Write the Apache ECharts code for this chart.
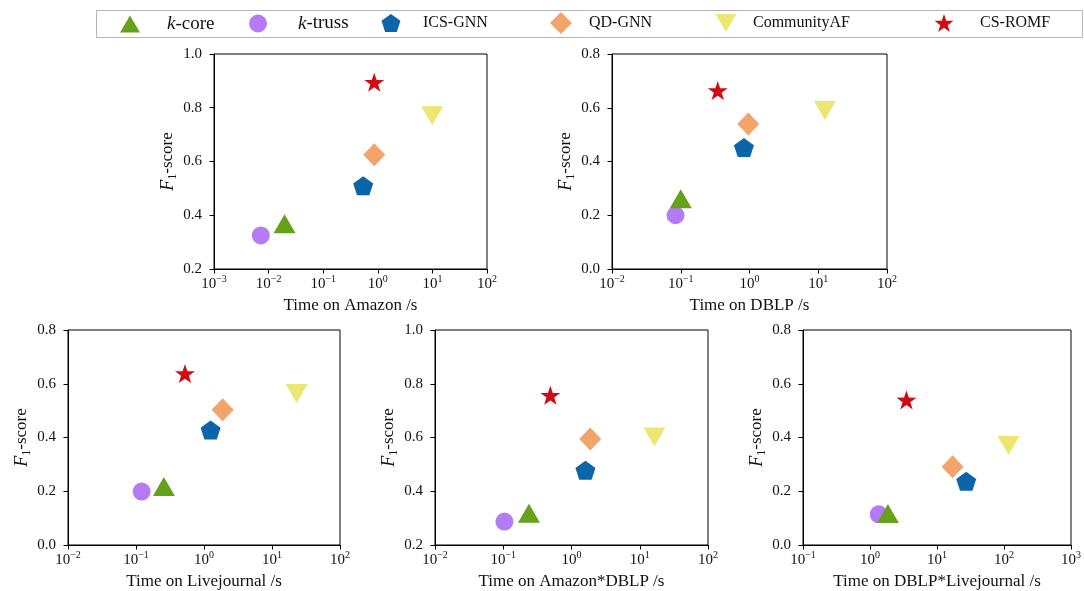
<!DOCTYPE html>
<html><head><meta charset="utf-8">
<script src="https://cdn.jsdelivr.net/npm/echarts@6.0.0/dist/echarts.min.js"></script>
<style>html,body{margin:0;padding:0;background:#fff}#c{width:1084px;height:591px}</style>
</head><body><div id="c"></div>
<script>
// ---- data ----
const methods = ['k-core', 'k-truss', 'ICS-GNN', 'QD-GNN', 'CommunityAF', 'CS-ROMF'];
const amazonTime = [0.0196, 0.0072, 0.54, 0.86, 9.9, 0.86];
const amazonF1   = [0.368, 0.325, 0.51, 0.625, 0.77, 0.895];
const dblpTime   = [0.1, 0.084, 0.83, 0.96, 12.5, 0.345];
const dblpF1     = [0.261, 0.2, 0.452, 0.54, 0.59, 0.664];
const ljTime     = [0.257, 0.121, 1.25, 1.88, 23, 0.525];
const ljF1       = [0.218, 0.199, 0.428, 0.503, 0.564, 0.638];
const adTime     = [0.238, 0.104, 1.6, 1.88, 16.4, 0.49];
const adF1       = [0.318, 0.287, 0.478, 0.594, 0.602, 0.757];
const dlTime     = [1.85, 1.35, 27.3, 17.1, 117, 3.5];
const dlF1       = [0.117, 0.114, 0.237, 0.291, 0.37, 0.54];
const xNames = ['Time on Amazon /s', 'Time on DBLP /s', 'Time on Livejournal /s', 'Time on Amazon*DBLP /s', 'Time on DBLP*Livejournal /s'];
const xRanges = [[1e-3, 1e2], [1e-2, 1e2], [1e-2, 1e2], [1e-2, 1e2], [1e-1, 1e3]];
const yRanges = [[0.2, 1.0], [0.0, 0.8], [0.0, 0.8], [0.2, 1.0], [0.0, 0.8]];
const yTickStep = 0.2;

// ---- styles / layout ----
const panels = [
  {xs: amazonTime, ys: amazonF1},
  {xs: dblpTime, ys: dblpF1},
  {xs: ljTime, ys: ljF1},
  {xs: adTime, ys: adF1},
  {xs: dlTime, ys: dlF1}
];
const grids = [
  {left: 214, top: 54, width: 273, height: 215},
  {left: 612, top: 54, width: 275, height: 215},
  {left: 68, top: 330, width: 272, height: 216},
  {left: 435, top: 330, width: 273, height: 215},
  {left: 803, top: 330, width: 272, height: 216}
];
const colors = ['#65a11b', '#b57bf5', '#0b65a8', '#f2a46a', '#ebe772', '#d00c14'];
const symbols = [
  'triangle',
  'circle',
  'path://M50,0 L97.6,34.5 L79.4,90.5 L20.6,90.5 L2.4,34.5 Z',
  'diamond',
  'path://M0,0 L100,0 L50,86 Z',
  'path://M50,0 L61.8,35.1 L98.9,35.4 L69.1,57.4 L80.3,92.7 L50,71.3 L19.7,92.7 L30.9,57.4 L1.1,35.4 L38.2,35.1 Z'
];
const sizes = [[22, 19], [18, 18], [20, 19], [22, 23], [22, 19], [20, 19]];
const legendIcon = [[20, 17], [18, 18], [19, 18], [22, 22], [21, 18], [19, 18]];
const legendCenter = [130, 258, 391, 561, 726, 944];
const legendTextX = [167, 298, 423, 589, 753, 980];
const legendFont = [19, 19, 16, 16, 16, 16];
const drawOrder = [1, 0, 2, 3, 4, 5];
const FONT = 'Liberation Serif';
const TXT = '#111';

const supRich = {
  b: {fontFamily: FONT, fontSize: 15, color: TXT, lineHeight: 20},
  sup: {fontFamily: FONT, fontSize: 10, color: TXT, lineHeight: 10, verticalAlign: 'top'}
};
function logLabel(v) {
  const e = Math.round(Math.log10(v));
  return '{b|10}{sup|' + String(e).replace('-', '\u2212') + '}';
}

const option = {
  animation: false,
  backgroundColor: '#fff',
  grid: grids.map(g => Object.assign({show: true, borderColor: '#000', borderWidth: 1, backgroundColor: 'transparent'}, g)),
  xAxis: panels.map((p, i) => ({
    type: 'log', logBase: 10, gridIndex: i,
    min: xRanges[i][0], max: xRanges[i][1],
    name: xNames[i], nameLocation: 'middle', nameGap: 28,
    nameTextStyle: {fontFamily: FONT, fontSize: 17, color: TXT},
    axisLine: {lineStyle: {color: '#000', width: 1}},
    axisTick: {length: 4.5, lineStyle: {color: '#000'}},
    axisLabel: {formatter: logLabel, rich: supRich, margin: 5, color: TXT},
    splitLine: {show: false}, minorTick: {show: false}
  })),
  yAxis: panels.map((p, i) => ({
    type: 'value', gridIndex: i,
    min: yRanges[i][0], max: yRanges[i][1], interval: yTickStep,
    name: '{i|F}{s|1}{r|-score}', nameLocation: 'middle', nameGap: 35,
    nameTextStyle: {
      color: TXT,
      rich: {
        i: {fontFamily: FONT, fontStyle: 'italic', fontSize: 18, lineHeight: 22, color: TXT},
        s: {fontFamily: FONT, fontSize: 12, lineHeight: 12, verticalAlign: 'bottom', color: TXT},
        r: {fontFamily: FONT, fontSize: 17, lineHeight: 22, color: TXT}
      }
    },
    axisLine: {show: true, lineStyle: {color: '#000', width: 1}},
    axisTick: {show: true, length: 4.5, lineStyle: {color: '#000'}},
    axisLabel: {formatter: v => v.toFixed(1), fontFamily: FONT, fontSize: 15, color: TXT, margin: 12},
    splitLine: {show: false}
  })),
  legend: methods.map((m, k) => {
    const w = legendIcon[k][0], h = legendIcon[k][1];
    const left = legendCenter[k] - w / 2;
    const pad = legendTextX[k] - (left + w + 5);
    return {
      data: [{name: m}], left: left, top: 23 - h / 2, padding: 0,
      itemWidth: w, itemHeight: h, selectedMode: false,
      formatter: n => n.startsWith('k-') ? '{i|k}{t|' + n.slice(1) + '}' : '{t|' + n + '}',
      textStyle: {
        padding: [0, 0, 0, pad], color: TXT, fontFamily: FONT, fontSize: legendFont[k],
        rich: {
          i: {fontFamily: FONT, fontStyle: 'italic', fontSize: legendFont[k], color: TXT},
          t: {fontFamily: FONT, fontSize: legendFont[k], color: TXT}
        }
      }
    };
  }),
  graphic: [{
    type: 'rect', z: -10, silent: true,
    shape: {x: 96.5, y: 10.5, width: 986, height: 27},
    style: {fill: '#fff', stroke: '#b5b5b5', lineWidth: 1}
  }],
  series: []
};

panels.forEach((p, i) => {
  drawOrder.forEach(m => {
    option.series.push({
      type: 'scatter', name: methods[m], xAxisIndex: i, yAxisIndex: i,
      data: [[p.xs[m], p.ys[m]]],
      symbol: symbols[m], symbolSize: sizes[m],
      itemStyle: {color: colors[m], opacity: 1},
      emphasis: {disabled: true}, silent: true
    });
  });
});

const chart = echarts.init(document.getElementById('c'), null, {renderer: 'canvas'});
chart.setOption(option);
</script>
</body></html>
